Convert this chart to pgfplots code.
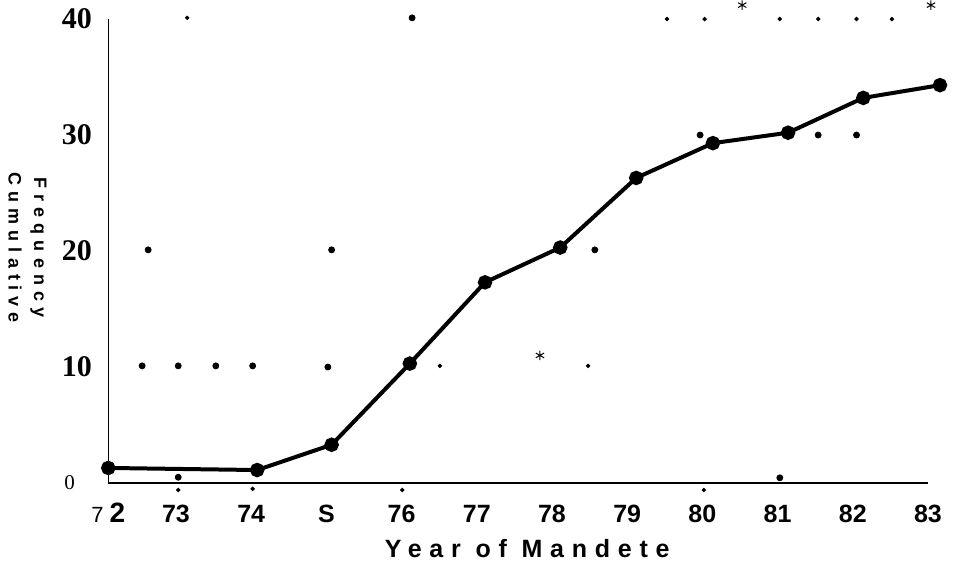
\documentclass[border=0pt]{standalone}
\usepackage{pgfplots}
\pgfplotsset{compat=1.18}
\usepackage{fontspec}
\setmainfont{Liberation Sans}
\newfontfamily\serifb{Liberation Serif}

\begin{document}
\begin{tikzpicture}
\begin{axis}[
  x=37.6pt, y=5.8pt,
  xmin=72.1, xmax=83, ymin=0, ymax=40,
  axis lines=left,
  axis line style={-},
  x axis line style={line width=1.4pt},
  y axis line style={line width=0.6pt},
  clip=false,
  major tick length=0pt,
  xtick={72.1,73,74,75,76,77,78,79,80,81,82,83},
  xticklabels={{{\mdseries\fontsize{11}{12}\selectfont 7}\hspace{3pt}{\fontsize{14}{14}\selectfont 2}},73,74,S,76,77,78,79,80,81,82,83},
  xticklabel style={font=\bfseries\fontsize{12.5}{14}\selectfont, anchor=base, inner sep=0pt, yshift=-19.5pt},
  ytick={0,10,20,30,40},
  yticklabels={{\mdseries\fontsize{10.5}{12}\selectfont 0\rule{8.5pt}{0pt}},10,20,30,40},
  yticklabel style={font=\serifb\bfseries\fontsize{15}{16}\selectfont, anchor=east, inner sep=0pt, xshift=-8pt},
]
% main series
\addplot[black, line width=2pt, mark=*, mark size=2.6pt] coordinates {
  (72.10,1.3) (74.08,1.12) (75.07,3.3) (76.11,10.3) (77.11,17.3) (78.11,20.3)
  (79.12,26.3) (80.14,29.3) (81.14,30.2) (82.14,33.2) (83.16,34.3)
};
% stray scan dots (larger)
\addplot[only marks, black, mark=*, mark size=1.5pt] coordinates {
  (72.55,10.1) (73.03,10.1) (73.53,10.1) (74.02,10.1) (75.02,10.0)
  (72.63,20.1) (75.07,20.1) (78.57,20.1)
  (79.97,30.0) (81.54,30.0) (82.05,30.0)
  (76.14,40.1) (73.03,0.5) (81.03,0.45)
};
% stray scan dots (small)
\addplot[only marks, black, mark=*, mark size=0.9pt] coordinates {
  (76.51,10.1) (78.48,10.1)
  (73.15,40.1) (79.53,40.0) (80.03,40.0) (81.03,40.0) (81.54,40.0) (82.05,40.0) (82.52,40.0)
  (73.03,-0.6) (74.02,-0.5) (76.01,-0.6) (80.02,-0.6)
};
% stray asterisks
\addplot[only marks, black, mark=asterisk, mark size=2.4pt, line width=0.5pt] coordinates {
  (77.84,11.0) (80.53,41.2) (83.04,41.2)
};
% axis titles
\node[anchor=base, font=\bfseries\fontsize{12.5}{14}\selectfont\addfontfeature{LetterSpace=31}, yshift=-37pt] at (axis cs:77.67,0) {Year of Mandete};
\node[rotate=-90, anchor=west, inner sep=0pt, font=\bfseries\fontsize{9}{10}\selectfont\addfontfeature{LetterSpace=33}] at (axis cs:70.86,26.81) {Cumulative};
\node[rotate=-90, anchor=west, inner sep=0pt, font=\bfseries\fontsize{9}{10}\selectfont\addfontfeature{LetterSpace=34}] at (axis cs:71.17,26.38) {Frequency};
\coordinate (bl) at (axis cs:70.66,-7.33);
\coordinate (tr) at (axis cs:83.333,41.64);
\end{axis}
\pgfresetboundingbox
\path (bl) rectangle (tr);
\end{tikzpicture}
\end{document}
